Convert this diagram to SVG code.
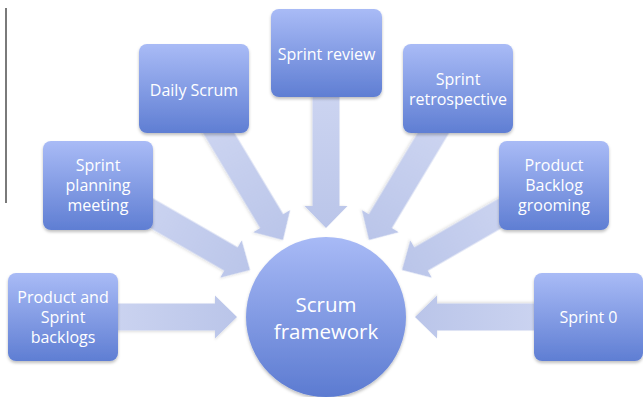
<svg xmlns="http://www.w3.org/2000/svg" width="643" height="397" viewBox="0 0 643 397">
  <defs>
    <linearGradient id="boxGrad" x1="0" y1="0" x2="0" y2="1">
      <stop offset="0" stop-color="#a9bbf6"/>
      <stop offset="1" stop-color="#5f7ed3"/>
    </linearGradient>
    <linearGradient id="circGrad" x1="0" y1="0" x2="0" y2="1">
      <stop offset="0" stop-color="#a8baf6"/>
      <stop offset="1" stop-color="#5c7bd1"/>
    </linearGradient>
    <linearGradient id="arrGrad" x1="0" y1="0" x2="1" y2="0">
      <stop offset="0" stop-color="#cdd5f1"/>
      <stop offset="1" stop-color="#bac5e9"/>
    </linearGradient>
    <filter id="shadow" x="-20%" y="-20%" width="140%" height="140%">
      <feDropShadow dx="0" dy="2" stdDeviation="1.5" flood-color="#000" flood-opacity="0.25"/>
    </filter>
    <filter id="ashadow" x="-20%" y="-20%" width="140%" height="140%">
      <feDropShadow dx="0" dy="1.5" stdDeviation="1.2" flood-color="#000" flood-opacity="0.12"/>
    </filter>
    <path id="arrow" d="M0,0 L-22,-21.5 L-22,-13.5 L-140,-13.5 L-140,13.5 L-22,13.5 L-22,21.5 Z"/>
  </defs>
  <style>
    .arr { fill: url(#arrGrad); filter: url(#ashadow); }
    .box { fill: url(#boxGrad); filter: url(#shadow); }
    .lbl { font-family: "Open Sans", "Liberation Sans", sans-serif; font-size: 16px; fill: #ffffff; text-anchor: middle; }
    .big { font-size: 20.5px; }
  </style>
  <rect width="643" height="397" fill="#ffffff"/>
  <line x1="6" y1="8" x2="6" y2="203" stroke="#7a7a7a" stroke-width="2"/>

  <g id="connectors">
    <use href="#arrow" class="arr" transform="translate(237,317)"/>
    <use href="#arrow" class="arr" transform="translate(250,270) rotate(30)"/>
    <use href="#arrow" class="arr" transform="translate(283,240) rotate(59)"/>
    <use href="#arrow" class="arr" transform="translate(326,228) rotate(90)"/>
    <use href="#arrow" class="arr" transform="translate(369,240) rotate(121)"/>
    <use href="#arrow" class="arr" transform="translate(402,270) rotate(150)"/>
    <use href="#arrow" class="arr" transform="translate(415,317) rotate(180)"/>
  </g>

  <g id="scrum-framework">
    <circle cx="326" cy="317" r="80" fill="url(#circGrad)" filter="url(#shadow)"/>
    <text class="lbl big" x="326" y="312">Scrum</text>
    <text class="lbl big" x="326" y="338.5">framework</text>
  </g>

  <g id="product-sprint-backlogs">
    <rect class="box" x="8" y="273" width="110" height="88" rx="8"/>
    <text class="lbl" x="63" y="303">Product and<tspan x="63" dy="20">Sprint</tspan><tspan x="63" dy="20">backlogs</tspan></text>
  </g>

  <g id="sprint-planning-meeting">
    <rect class="box" x="43" y="141" width="110" height="89" rx="8"/>
    <text class="lbl" x="98" y="171">Sprint<tspan x="98" dy="20">planning</tspan><tspan x="98" dy="20">meeting</tspan></text>
  </g>

  <g id="daily-scrum">
    <rect class="box" x="139" y="44" width="110" height="89" rx="8"/>
    <text class="lbl" x="194" y="96">Daily Scrum</text>
  </g>

  <g id="sprint-review">
    <rect class="box" x="271" y="9" width="111" height="88" rx="8"/>
    <text class="lbl" x="326.5" y="60">Sprint review</text>
  </g>

  <g id="sprint-retrospective">
    <rect class="box" x="403" y="44" width="110" height="89" rx="8"/>
    <text class="lbl" x="458" y="85">Sprint<tspan x="458" dy="20">retrospective</tspan></text>
  </g>

  <g id="product-backlog-grooming">
    <rect class="box" x="499" y="141" width="110" height="89" rx="8"/>
    <text class="lbl" x="554" y="171">Product<tspan x="554" dy="20">Backlog</tspan><tspan x="554" dy="20">grooming</tspan></text>
  </g>

  <g id="sprint-0">
    <rect class="box" x="534" y="273" width="109" height="88" rx="8"/>
    <text class="lbl" x="588.5" y="323">Sprint 0</text>
  </g>
</svg>
